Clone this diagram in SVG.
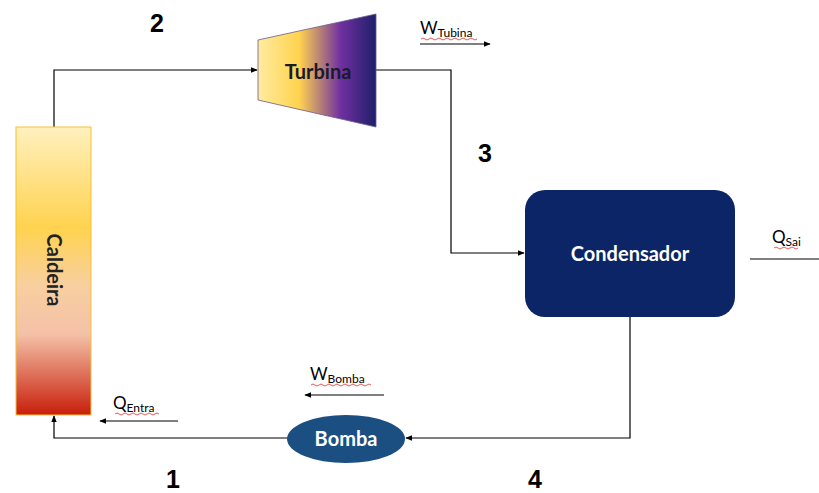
<svg xmlns="http://www.w3.org/2000/svg" width="819" height="493" viewBox="0 0 819 493">
<style>
.ln{fill:none;stroke:#000;stroke-width:1.2}
.num{font-family:"Liberation Sans",Arial,sans-serif;font-weight:bold;font-size:25px;fill:#000}
.lbl{font-family:Lato,"Liberation Sans",sans-serif;font-size:17px;fill:#000}
.sub{font-size:12px}
.node{font-family:Lato,"Liberation Sans",sans-serif;font-weight:bold;font-size:20px}
.wav{fill:none;stroke:#e03030;stroke-width:0.8}
</style>
<defs>
<marker id="ah" viewBox="0 0 10 10" refX="9" refY="5" markerWidth="7" markerHeight="7" orient="auto" markerUnits="userSpaceOnUse">
<path d="M0,1 L10,5 L0,9 z" fill="#000"/>
</marker>
<linearGradient id="gCal" x1="0" y1="0" x2="0" y2="1">
<stop offset="0" stop-color="#FFF0BE"/>
<stop offset="0.35" stop-color="#FFD34F"/>
<stop offset="0.55" stop-color="#F8CFA0"/>
<stop offset="0.72" stop-color="#F4C1A8"/>
<stop offset="1" stop-color="#C81E0A"/>
</linearGradient>
<linearGradient id="gTur" x1="0" y1="0" x2="1" y2="0">
<stop offset="0" stop-color="#FFEBA0"/>
<stop offset="0.35" stop-color="#FFD34F"/>
<stop offset="0.7" stop-color="#7030A0"/>
<stop offset="1" stop-color="#1F1F6A"/>
</linearGradient>
</defs>
<g id="connectors">
<polyline class="ln" points="54,127 54,70 257,70" marker-end="url(#ah)"/>
<polyline class="ln" points="376,70 451,70 451,253 524,253" marker-end="url(#ah)"/>
<polyline class="ln" points="630,317 630,438 406,438" marker-end="url(#ah)"/>
<polyline class="ln" points="287,438 54,438 54,416" marker-end="url(#ah)"/>
<line class="ln" x1="420" y1="44" x2="490" y2="44" marker-end="url(#ah)"/>
<line class="ln" x1="178" y1="421" x2="100" y2="421" marker-end="url(#ah)"/>
<line class="ln" x1="384" y1="395" x2="305" y2="395" marker-end="url(#ah)"/>
<line class="ln" x1="750" y1="259" x2="819" y2="259"/>
</g>
<g id="caldeira">
<rect x="16" y="127" width="75" height="288" fill="url(#gCal)" stroke="#F2C230" stroke-width="1"/>
<text class="node" x="0" y="0" transform="translate(47,270) rotate(90)" text-anchor="middle" fill="#222">Caldeira</text>
</g>
<g id="turbina">
<polygon points="258,40 376,14 376,127 258,100" fill="url(#gTur)" stroke="#6a5a8a" stroke-width="0.8"/>
<text class="node" x="318" y="79" text-anchor="middle" fill="#1a1a2a">Turbina</text>
</g>
<g id="condensador">
<rect x="525" y="190" width="210" height="127" rx="20" fill="#0B2566"/>
<text class="node" x="630" y="261" text-anchor="middle" fill="#fff">Condensador</text>
</g>
<g id="bomba">
<ellipse cx="346" cy="439" rx="59" ry="24" fill="#1B4F82"/>
<text class="node" x="346" y="446" text-anchor="middle" fill="#fff">Bomba</text>
</g>
<g id="labels">
<text class="num" x="150" y="32">2</text>
<text class="num" x="478" y="162">3</text>
<text class="num" x="166" y="488">1</text>
<text class="num" x="528" y="488">4</text>
<text class="lbl" x="420" y="34">W<tspan class="sub" dy="3">Tubina</tspan></text>
<text class="lbl" x="772" y="243">Q<tspan class="sub" dy="3">Sai</tspan></text>
<text class="lbl" x="113" y="409">Q<tspan class="sub" dy="3">Entra</tspan></text>
<text class="lbl" x="310" y="380">W<tspan class="sub" dy="3">Bomba</tspan></text>
<path class="wav" d="M421,39 q2,-2 4,0 t4,0 t4,0 t4,0 t4,0 t4,0 t4,0 t4,0 t4,0 t4,0 t4,0 t4,0 t4,0 t4,0"/>
<path class="wav" d="M774,248 q2,-2 4,0 t4,0 t4,0 t4,0 t4,0 t4,0"/>
<path class="wav" d="M115,414 q2,-2 4,0 t4,0 t4,0 t4,0 t4,0 t4,0 t4,0 t4,0 t4,0 t4,0 t4,0"/>
<path class="wav" d="M311,385 q2,-2 4,0 t4,0 t4,0 t4,0 t4,0 t4,0 t4,0 t4,0 t4,0 t4,0 t4,0 t4,0 t4,0 t4,0 t4,0"/>
</g>
</svg>
